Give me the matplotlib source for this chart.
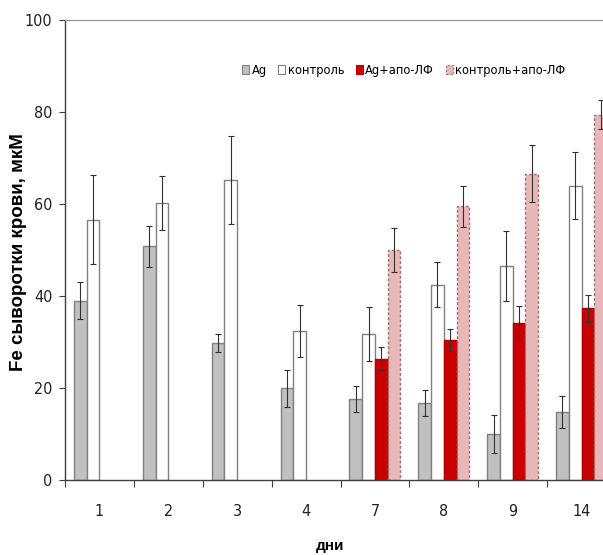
import matplotlib
matplotlib.use("Agg")
import matplotlib.pyplot as plt
from matplotlib.patches import Patch
from matplotlib.ticker import FixedLocator, NullFormatter
import numpy as np

plt.rcParams["font.family"] = ["DejaVu Sans", "Liberation Sans"]
plt.rcParams["font.stretch"] = "condensed"

days = ["1", "2", "3", "4", "7", "8", "9", "14"]

ag      = [39.0, 50.8, 29.8, 19.9, 17.6, 16.7, 10.0, 14.7]
ag_err  = [4.0, 4.5, 2.0, 4.0, 2.9, 2.8, 4.1, 3.5]
ctrl     = [56.6, 60.2, 65.2, 32.4, 31.8, 42.5, 46.5, 64.0]
ctrl_err = [9.6, 5.9, 9.6, 5.7, 5.9, 4.8, 7.6, 7.2]
ag_lf     = [np.nan, np.nan, np.nan, np.nan, 26.4, 30.5, 34.2, 37.3]
ag_lf_err = [np.nan, np.nan, np.nan, np.nan, 2.5, 2.4, 3.6, 3.0]
ctrl_lf     = [np.nan, np.nan, np.nan, np.nan, 50.0, 59.5, 66.6, 79.4]
ctrl_lf_err = [np.nan, np.nan, np.nan, np.nan, 4.7, 4.4, 6.2, 3.2]

labels = ["Ag", "контроль", "Ag+апо-ЛФ", "контроль+апо-ЛФ"]

styles = [
    dict(facecolor="#c0c0c0", edgecolor="#808080", linestyle="-"),
    dict(facecolor="white", edgecolor="#808080", linestyle="-"),
    dict(facecolor="#c80000", edgecolor="#b00000", linestyle="-"),
    dict(facecolor="#e8b8b8", edgecolor="#a07070", linestyle=(0, (2, 1.5))),
]

series = [(ag, ag_err), (ctrl, ctrl_err), (ag_lf, ag_lf_err), (ctrl_lf, ctrl_lf_err)]

fig = plt.figure(figsize=(6.03, 5.55), dpi=100)
ax = fig.add_axes([65 / 603, 75 / 555, 551 / 603, 460 / 555])

x = np.arange(len(days))
w = 0.185
for k, ((vals, errs), st) in enumerate(zip(series, styles)):
    pos = x + (k - 1.5) * w
    ax.bar(pos, vals, w, linewidth=1.0, zorder=2, **st)
    ax.errorbar(pos, vals, yerr=errs, fmt="none", ecolor="#303030",
                elinewidth=0.8, capsize=2.2, capthick=0.8, zorder=3)

ax.set_xlim(-0.5, 7.5)
ax.set_ylim(0, 100)
ax.set_yticks([0, 20, 40, 60, 80, 100])
ax.tick_params(axis="y", length=4, width=0.8, color="#404040", pad=5,
               labelsize=11.5, labelcolor="#202020")

ax.xaxis.set_major_locator(FixedLocator(np.arange(-0.5, 8.0, 1.0)))
ax.xaxis.set_major_formatter(NullFormatter())
ax.xaxis.set_minor_locator(FixedLocator(x))
ax.set_xticklabels(days, minor=True)
ax.tick_params(axis="x", which="major", length=5, width=0.8, color="#404040")
ax.tick_params(axis="x", which="minor", length=0, pad=17, labelsize=11.5,
               labelcolor="#202020")

for side in ("left", "bottom"):
    ax.spines[side].set_color("#404040")
    ax.spines[side].set_linewidth(1.0)
ax.spines["top"].set_color("#909090")
ax.spines["right"].set_visible(False)

ax.set_ylabel("Fe сыворотки крови, мкМ", fontsize=13.5, fontweight="bold",
              family=["Liberation Sans", "DejaVu Sans"], fontstretch="normal")
ax.yaxis.set_label_coords(-(65 - 27) / 551, (480 - 252) / 460)
ax.set_xlabel("дни", fontsize=11, fontweight="bold",
              family=["Liberation Sans", "DejaVu Sans"], fontstretch="normal")
ax.xaxis.set_label_coords((330 - 65) / 551, -(539 - 480) / 460)

handles = [Patch(linewidth=0.8, **st) for st in styles]
ax.legend(handles, labels, ncol=4, frameon=False, loc="center left",
          bbox_to_anchor=(0.305, 0.891), fontsize=9.2, handlelength=0.55,
          handleheight=0.7, handletextpad=0.2, columnspacing=0.9,
          borderpad=0.2)

fig.savefig("out.png", dpi=100)
